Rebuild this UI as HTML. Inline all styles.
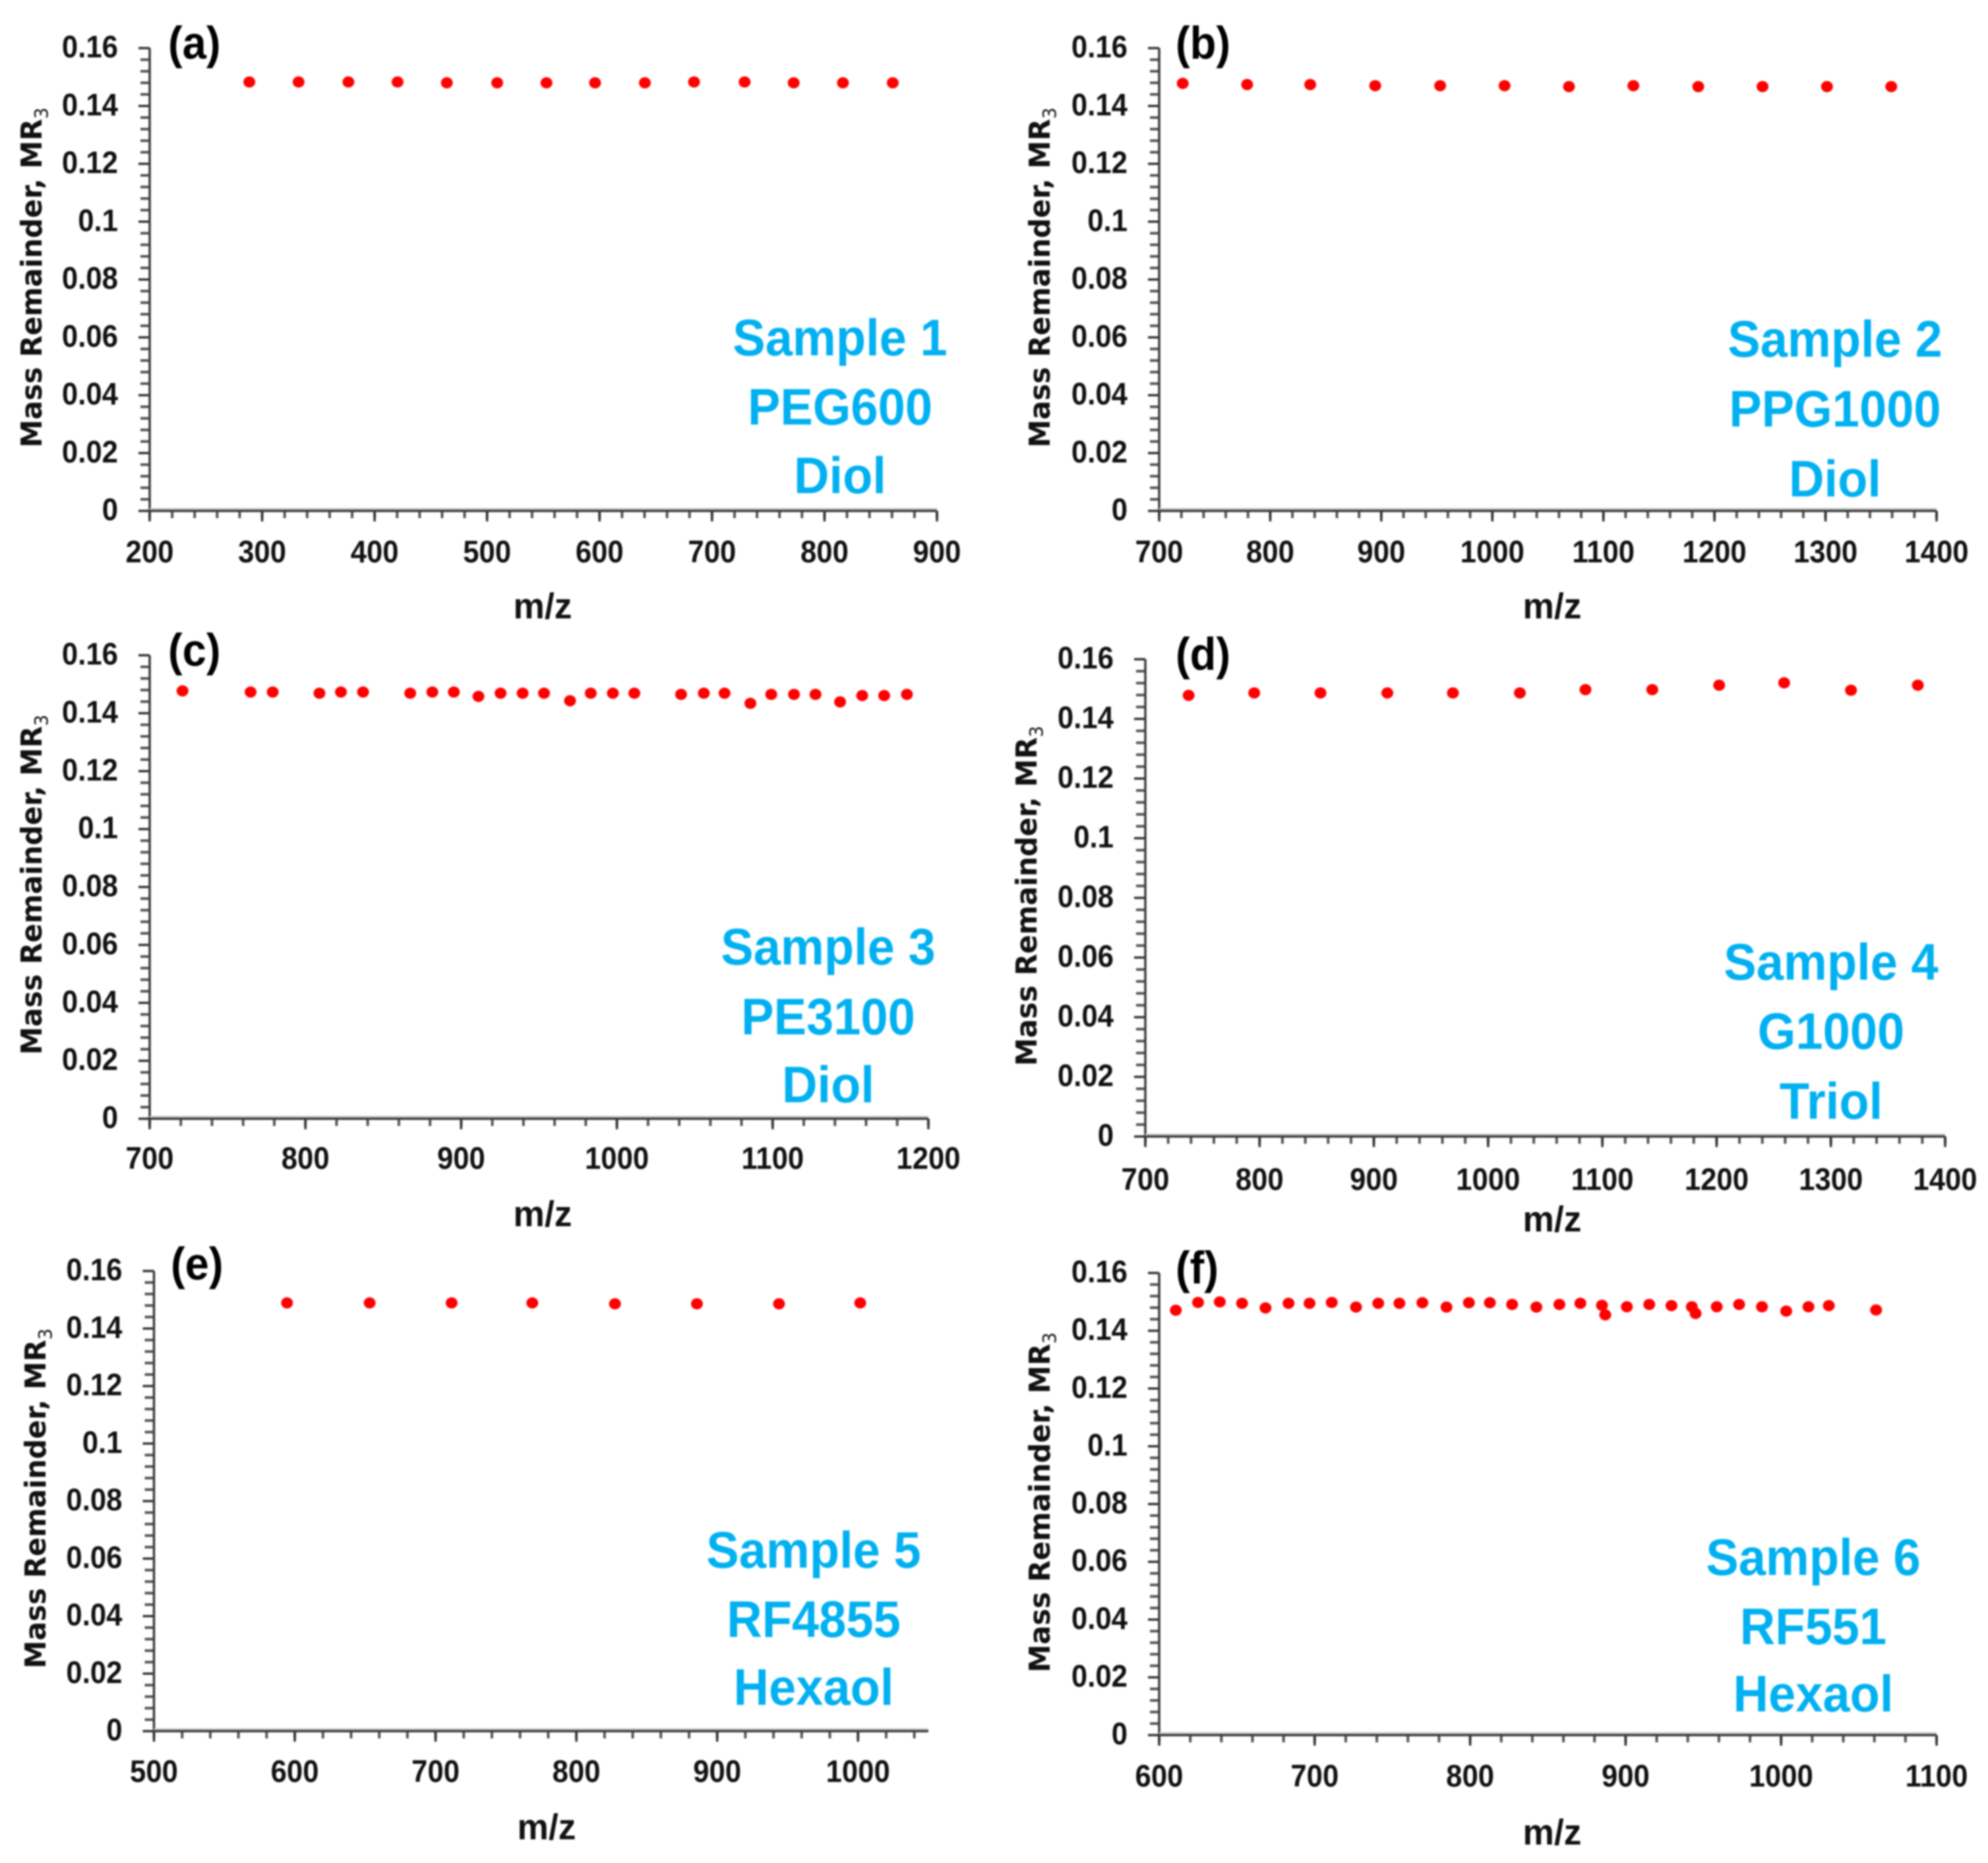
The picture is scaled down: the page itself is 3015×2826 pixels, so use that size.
<!DOCTYPE html>
<html lang="en">
<head>
<meta charset="utf-8">
<title>Mass remainder plots, samples 1 to 6</title>
<style>
  html, body { margin: 0; padding: 0; background: #fff; }
  body { width: 3015px; height: 2826px; overflow: hidden; }
  #figure { display: block; filter: blur(1.4px); }
  text { font-family: "Liberation Sans", sans-serif; font-weight: 700; }
  .tick-label { fill: #111; font-size: 47px; }
  .axis-title { fill: #111; }
  .sample-label { fill: #00B0F0; font-size: 78px; text-anchor: middle; }
  .panel-letter { fill: #000; font-size: 70px; }
</style>
</head>
<body>
<svg id="figure" xmlns="http://www.w3.org/2000/svg" width="3015" height="2826" viewBox="0 0 3015 2826"></svg>
<script>
// ---- Shared axis data ----
const yTickValues = [0, 0.02, 0.04, 0.06, 0.08, 0.1, 0.12, 0.14, 0.16];
const yTickLabels = ["0", "0.02", "0.04", "0.06", "0.08", "0.1", "0.12", "0.14", "0.16"];

// ---- Panel (a) Sample 1 ----
const xTicksA = [200, 300, 400, 500, 600, 700, 800, 900];
const mzA = [288.6, 332.4, 376.7, 420.4, 464.2, 509, 552.8, 596, 640.3, 684, 729, 772.6, 816.4, 860.7];
const mrA = [0.1483, 0.1483, 0.1483, 0.1483, 0.148, 0.148, 0.148, 0.148, 0.148, 0.1483, 0.1483, 0.148, 0.148, 0.148];

// ---- Panel (b) Sample 2 ----
const xTicksB = [700, 800, 900, 1000, 1100, 1200, 1300, 1400];
const mzB = [721.2, 779.2, 836, 894.5, 953, 1011, 1069, 1127, 1185.4, 1243.3, 1301.3, 1359.2];
const mrB = [0.1478, 0.1474, 0.1474, 0.147, 0.147, 0.147, 0.1467, 0.147, 0.1467, 0.1467, 0.1467, 0.1467];

// ---- Panel (c) Sample 3 ----
const xTicksC = [700, 800, 900, 1000, 1100, 1200];
const mzC = [721.1, 764.8, 779, 809, 822.8, 837, 867.3, 881.5, 895.3, 911.1, 925.3, 939.5, 953.2, 969.9, 983.2, 997.4, 1011.2, 1041.2, 1055.8, 1069.1, 1085.7, 1099.1, 1113.7, 1127.5, 1143.3, 1157.5, 1171.6, 1186.2];
const mrC = [0.1477, 0.1473, 0.1473, 0.1469, 0.1473, 0.1473, 0.1469, 0.1473, 0.1473, 0.1458, 0.1469, 0.1469, 0.1469, 0.1443, 0.1469, 0.1469, 0.1469, 0.1465, 0.1469, 0.1469, 0.1434, 0.1465, 0.1465, 0.1465, 0.1439, 0.1461, 0.1461, 0.1465];

// ---- Panel (d) Sample 4 ----
const xTicksD = [700, 800, 900, 1000, 1100, 1200, 1300, 1400];
const mzD = [737.9, 795.3, 853.3, 911.8, 969.2, 1027.8, 1085.2, 1143.7, 1202.2, 1259.1, 1317.6, 1376.1];
const mrD = [0.1479, 0.1487, 0.1487, 0.1487, 0.1487, 0.1487, 0.1498, 0.1498, 0.1513, 0.1521, 0.1496, 0.1513];

// ---- Panel (e) Sample 5 ----
const xTicksE = [500, 600, 700, 800, 900, 1000];
const mzE = [594.5, 653.2, 711.4, 768.7, 827.4, 885.6, 943.9, 1001.6];
const mrE = [0.1489, 0.1489, 0.1489, 0.1489, 0.1486, 0.1486, 0.1486, 0.1489];

// ---- Panel (f) Sample 6 ----
const xTicksF = [600, 700, 800, 900, 1000, 1100];
const mzF = [610.7, 625, 639, 653.3, 668.4, 683.2, 696.7, 711, 726.6, 740.9, 754.5, 769.3, 784.8, 799.2, 812.7, 827, 842.6, 857.4, 870.9, 884.8, 886.9, 900.8, 915.2, 929.5, 942.6, 945, 958.6, 973, 987.7, 1003.3, 1017.6, 1030.7, 1061.1];
const mrF = [0.1471, 0.1498, 0.15, 0.1495, 0.1479, 0.1495, 0.1495, 0.1498, 0.1482, 0.1495, 0.1495, 0.1497, 0.1482, 0.1497, 0.1497, 0.1491, 0.1482, 0.1491, 0.1495, 0.1488, 0.1455, 0.1483, 0.1491, 0.1487, 0.1483, 0.146, 0.1483, 0.1491, 0.1483, 0.1468, 0.1483, 0.1487, 0.1472];

// ---- Panel layout (pixel frames, separate from the data) ----
const panels = [
  { id: "a", letter: "(a)", mz: mzA, mr: mrA, ticks: xTicksA, xMin: 200, xMax: 900, yMax: 0.16,
    L: 227, R: 1421, T: 73, B: 775, labelDrop: 78, titleX: 823, titleY: 938, yTitleX: 63, yTitleY: 421,
    lines: ["Sample 1", "PEG600", "Diol"], cx: 1274, bases: [539, 644, 748], letterX: 255, letterY: 89 },
  { id: "b", letter: "(b)", mz: mzB, mr: mrB, ticks: xTicksB, xMin: 700, xMax: 1400, yMax: 0.16,
    L: 1758, R: 2937, T: 73, B: 775, labelDrop: 78, titleX: 2354, titleY: 938, yTitleX: 1592, yTitleY: 421,
    lines: ["Sample 2", "PPG1000", "Diol"], cx: 2783, bases: [541, 647, 753], letterX: 1783, letterY: 89 },
  { id: "c", letter: "(c)", mz: mzC, mr: mrC, ticks: xTicksC, xMin: 700, xMax: 1200, yMax: 0.16,
    L: 227, R: 1408, T: 994, B: 1697, labelDrop: 76, titleX: 823, titleY: 1860, yTitleX: 63, yTitleY: 1342,
    lines: ["Sample 3", "PE3100", "Diol"], cx: 1256, bases: [1463, 1569, 1672], letterX: 255, letterY: 1010 },
  { id: "d", letter: "(d)", mz: mzD, mr: mrD, ticks: xTicksD, xMin: 700, xMax: 1400, yMax: 0.16,
    L: 1737, R: 2950, T: 1000, B: 1724, labelDrop: 81, titleX: 2354, titleY: 1868, yTitleX: 1572, yTitleY: 1359,
    lines: ["Sample 4", "G1000", "Triol"], cx: 2777, bases: [1486, 1591, 1697], letterX: 1783, letterY: 1016 },
  { id: "e", letter: "(e)", mz: mzE, mr: mrE, ticks: xTicksE, xMin: 500, xMax: 1050, yMax: 0.16,
    L: 233.5, R: 1408, T: 1928, B: 2626, labelDrop: 77, titleX: 829, titleY: 2790, yTitleX: 69, yTitleY: 2273,
    lines: ["Sample 5", "RF4855", "Hexaol"], cx: 1234, bases: [2378, 2483, 2586], letterX: 259, letterY: 1941 },
  { id: "f", letter: "(f)", mz: mzF, mr: mrF, ticks: xTicksF, xMin: 600, xMax: 1100, yMax: 0.16,
    L: 1758, R: 2937, T: 1931, B: 2632, labelDrop: 78, titleX: 2354, titleY: 2798, yTitleX: 1592, yTitleY: 2279,
    lines: ["Sample 6", "RF551", "Hexaol"], cx: 2750, bases: [2389, 2494, 2596], letterX: 1783, letterY: 1947 }
];

const NS = "http://www.w3.org/2000/svg";
const figure = document.getElementById("figure");

function make(tag, parent, props) {
  const node = document.createElementNS(NS, tag);
  for (const k in props) node.setAttribute(k, props[k]);
  parent.appendChild(node);
  return node;
}

// Condense a text horizontally to mimic the narrower original typeface.
function narrow(node, factor) {
  const natural = node.getComputedTextLength();
  node.setAttribute("textLength", (natural * factor).toFixed(1));
  node.setAttribute("lengthAdjust", "spacingAndGlyphs");
}

function drawPanel(p) {
  const xScale = v => p.L + (v - p.xMin) / (p.xMax - p.xMin) * (p.R - p.L);
  const yScale = v => p.B - v / p.yMax * (p.B - p.T);

  const group = make("g", figure, {});
  
  

  // y minor ticks
  const yMinorStep = (yTickValues[1] - yTickValues[0]) / 5;
  const yMinorCount = Math.round(p.yMax / yMinorStep);
  for (let i = 0; i <= yMinorCount; i++) {
    if (i % 5 === 0) continue;
    const y = yScale(i * yMinorStep);
    const minorY = make("line", group, { x1: p.L - 14, x2: p.L, y1: y, y2: y, stroke: "#555", "stroke-width": 4 });
    
    
  }

  // y major ticks and labels
  yTickValues.forEach((v, i) => {
    const y = yScale(v);
    const tick = make("line", group, { x1: p.L - 17, x2: p.L, y1: y, y2: y, stroke: "#333", "stroke-width": 3.5 });
    
    
    const label = make("text", group, { x: p.L - 48, y: y + 14, class: "tick-label", "text-anchor": "end" });
    
    
    label.textContent = yTickLabels[i];
    narrow(label, 0.93);
  });

  // x minor ticks
  const xMajorStep = p.ticks[1] - p.ticks[0];
  const xMinorStep = xMajorStep / 5;
  for (let v = p.xMin; v <= p.xMax + 0.001; v += xMinorStep) {
    const x = xScale(v);
    const minorX = make("line", group, { x1: x, x2: x, y1: p.B, y2: p.B + 11, stroke: "#555", "stroke-width": 4 });
    
    
  }

  // x major ticks and labels
  p.ticks.forEach(v => {
    const x = xScale(v);
    const tick = make("line", group, { x1: x, x2: x, y1: p.B, y2: p.B + 16, stroke: "#333", "stroke-width": 3.5 });
    
    
    const label = make("text", group, { x: x, y: p.B + p.labelDrop, class: "tick-label", "text-anchor": "middle" });
    
    
    label.textContent = String(v);
    narrow(label, 0.93);
  });

  // axis lines
  const yAxis = make("line", group, { x1: p.L, x2: p.L, y1: p.T, y2: p.B + 1, stroke: "#3a3a3a", "stroke-width": 3.5 });
  
  
  const xAxisShade = make("line", group, { x1: p.L, x2: p.R, y1: p.B - 3, y2: p.B - 3, stroke: "#ccc", "stroke-width": 3 });
  
  
  const xAxis = make("line", group, { x1: p.L, x2: p.R, y1: p.B, y2: p.B, stroke: "#3a3a3a", "stroke-width": 3.5 });
  
  

  // data points
  p.mz.forEach((m, i) => {
    const dot = make("ellipse", group, { cx: xScale(m), cy: yScale(p.mr[i]), rx: 9, ry: 8.5, fill: "#ff0000" });
    
    
  });

  // y-axis title
  const yTitle = make("text", group, {
    x: 0, y: 0, class: "axis-title", "text-anchor": "middle",
    transform: "translate(" + p.yTitleX + "," + p.yTitleY + ") rotate(-90)",
    textLength: 516, lengthAdjust: "spacingAndGlyphs",
    style: 'font-family:"DejaVu Sans",sans-serif;font-size:44px;font-weight:700'
  });
  
  
  yTitle.appendChild(document.createTextNode("Mass Remainder, MR"));
  const sub = make("tspan", yTitle, { dy: 9, style: "font-size:28px;font-weight:400" });
  
  
  sub.textContent = "3";

  // x-axis title
  const xTitle = make("text", group, { x: p.titleX, y: p.titleY, class: "axis-title", "text-anchor": "middle", style: "font-size:55px" });
  
  
  xTitle.textContent = "m/z";
  narrow(xTitle, 0.97);

  // panel letter
  const letter = make("text", group, { x: p.letterX, y: p.letterY, class: "panel-letter" });
  
  
  letter.textContent = p.letter;
  narrow(letter, 0.93);

  // sample annotation
  p.lines.forEach((line, i) => {
    const note = make("text", group, { x: p.cx, y: p.bases[i], class: "sample-label" });
    
    
    note.textContent = line;
    narrow(note, 0.95);
  });
}

panels.forEach(drawPanel);
</script>
</body>
</html>
